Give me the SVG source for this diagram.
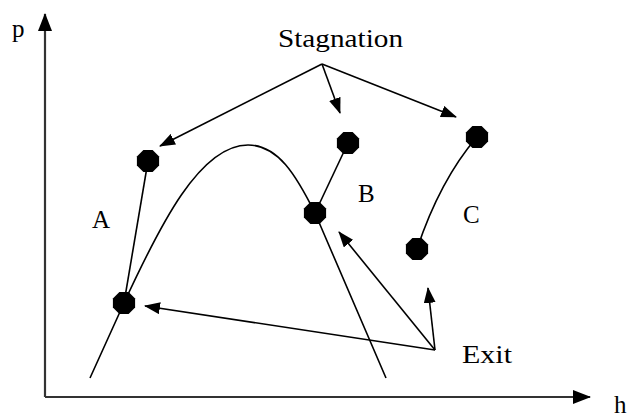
<svg xmlns="http://www.w3.org/2000/svg" xmlns:xlink="http://www.w3.org/1999/xlink" width="628" height="417" viewBox="0 0 628 417">
<style>
.lbl{font-family:"Liberation Serif","Times New Roman",serif;font-size:25px;fill:#000}
.ln{fill:none;stroke:#000;stroke-width:1.6}
.arr{fill:none;stroke:#000;stroke-width:1.6;marker-end:url(#ah)}
.axis{fill:none;stroke:#333;stroke-width:2.2}
.pt{fill:#000}
</style>
<defs>
<marker id="ah" markerWidth="16" markerHeight="12" refX="15" refY="6" orient="auto" markerUnits="userSpaceOnUse">
<path d="M0,0 L16,6 L0,12 Z" fill="#000"/>
</marker>
<marker id="axh" markerWidth="18" markerHeight="14" refX="17" refY="7" orient="auto" markerUnits="userSpaceOnUse">
<path d="M0,0 L18,7 L0,14 Z" fill="#000"/>
</marker>
<polygon id="oct" points="11.1,4.6 4.6,11.1 -4.6,11.1 -11.1,4.6 -11.1,-4.6 -4.6,-11.1 4.6,-11.1 11.1,-4.6"/>
</defs>
<rect width="628" height="417" fill="#fff"/>
<g id="axes">
<path class="axis" d="M45,397 L45,14" marker-end="url(#axh)"/>
<path class="axis" d="M45,397 L590,397" marker-end="url(#axh)"/>
<text class="lbl" x="12" y="37">p</text>
<text class="lbl" x="614" y="413">h</text>
</g>
<g id="curves">
<path class="ln" d="M90,378 L124,303 C160,225 200,145 248,145 C278,145 296,175 315,213 L386,378"/>
<path class="ln" d="M148,161 L124,303"/>
<path class="ln" d="M348,143 L315,213"/>
<path class="ln" d="M477,137 Q440,180 417,249"/>
</g>
<g id="connectors">
<path class="arr" d="M322,64 L160,146"/>
<path class="arr" d="M322,64 L340,113"/>
<path class="arr" d="M322,64 L456,117"/>
<path class="arr" d="M435,350 L145,306"/>
<path class="arr" d="M435,350 L339,232"/>
<path class="arr" d="M435,350 L428,288"/>
</g>
<g id="nodeA1"><use xlink:href="#oct" class="pt" x="148" y="161"/></g>
<g id="nodeA2"><use xlink:href="#oct" class="pt" x="124" y="303"/></g>
<g id="nodeB1"><use xlink:href="#oct" class="pt" x="348" y="143"/></g>
<g id="nodeB2"><use xlink:href="#oct" class="pt" x="315" y="213"/></g>
<g id="nodeC1"><use xlink:href="#oct" class="pt" x="477" y="137"/></g>
<g id="nodeC2"><use xlink:href="#oct" class="pt" x="417" y="249"/></g>
<g id="labels">
<text class="lbl" x="278" y="47" textLength="125" lengthAdjust="spacingAndGlyphs">Stagnation</text>
<text class="lbl" x="92" y="228">A</text>
<text class="lbl" x="358" y="202">B</text>
<text class="lbl" x="463" y="223">C</text>
<text class="lbl" x="462" y="363" textLength="50" lengthAdjust="spacingAndGlyphs">Exit</text>
</g>
</svg>
